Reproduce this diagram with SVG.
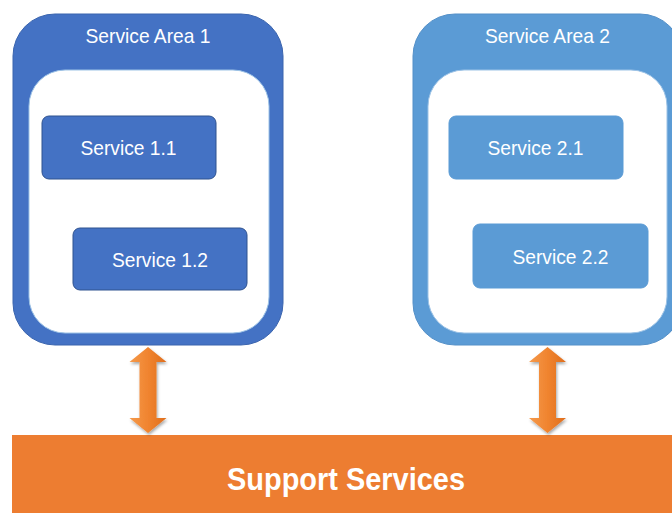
<svg xmlns="http://www.w3.org/2000/svg" width="672" height="513" viewBox="0 0 672 513">
  <defs>
    <style>
      .area1 { fill: #4472C4; stroke: #3A64AE; stroke-width: 1; }
      .area2 { fill: #5B9BD5; stroke: #5490C8; stroke-width: 1; }
      .inner { fill: #FFFFFF; stroke: #9DC3E6; stroke-width: 1; }
      .svc1 { fill: #4472C4; stroke: #2F528F; stroke-width: 1; }
      .svc2 { fill: #5B9BD5; stroke: #5B9BD5; stroke-width: 1; }
      .lbl { font-family: "Liberation Sans", Arial, sans-serif; font-size: 21px; fill: #FFFFFF; text-anchor: middle; }
      .big { font-family: "Liberation Sans", Arial, sans-serif; font-size: 32px; font-weight: bold; fill: #FFFFFF; text-anchor: middle; }
      .arrow { fill: url(#og); filter: url(#sh); }
    </style>
    <linearGradient id="og" x1="0" y1="0" x2="1" y2="0">
      <stop offset="0" stop-color="#F59A4C"/>
      <stop offset="0.5" stop-color="#F0842F"/>
      <stop offset="1" stop-color="#E06E1C"/>
    </linearGradient>
    <filter id="sh" x="-30%" y="-10%" width="160%" height="130%">
      <feDropShadow dx="1" dy="2" stdDeviation="1.5" flood-color="#000" flood-opacity="0.35"/>
    </filter>
    <path id="dbl" d="M0,0 L18.5,15 L8.5,15 L8.5,71 L18.5,71 L0,86 L-18.5,71 L-8.5,71 L-8.5,15 L-18.5,15 Z"/>
  </defs>

  <g id="service-area-1">
    <rect class="area1" x="13" y="14" width="270" height="331" rx="42" ry="42"/>
    <rect class="inner" x="29" y="70" width="240" height="263" rx="36" ry="36"/>
    <text class="lbl" x="148" y="43" textLength="125" lengthAdjust="spacingAndGlyphs">Service Area 1</text>
  </g>
  <g id="service-1-1">
    <rect class="svc1" x="42" y="116" width="174" height="63" rx="7" ry="7"/>
    <text class="lbl" x="128.5" y="155" textLength="96" lengthAdjust="spacingAndGlyphs">Service 1.1</text>
  </g>
  <g id="service-1-2">
    <rect class="svc1" x="73" y="228" width="174" height="62" rx="7" ry="7"/>
    <text class="lbl" x="160" y="267" textLength="96" lengthAdjust="spacingAndGlyphs">Service 1.2</text>
  </g>

  <g id="service-area-2">
    <rect class="area2" x="413" y="14" width="269" height="331" rx="42" ry="42"/>
    <rect class="inner" x="428" y="70" width="239" height="263" rx="36" ry="36"/>
    <text class="lbl" x="547.5" y="43" textLength="125" lengthAdjust="spacingAndGlyphs">Service Area 2</text>
  </g>
  <g id="service-2-1">
    <rect class="svc2" x="449" y="116" width="174" height="63" rx="7" ry="7"/>
    <text class="lbl" x="535.5" y="155" textLength="96" lengthAdjust="spacingAndGlyphs">Service 2.1</text>
  </g>
  <g id="service-2-2">
    <rect class="svc2" x="473" y="224" width="175" height="64" rx="7" ry="7"/>
    <text class="lbl" x="560.5" y="264" textLength="96" lengthAdjust="spacingAndGlyphs">Service 2.2</text>
  </g>

  <g id="support-services">
    <rect x="12" y="435" width="670" height="80" fill="#ED7D31"/>
    <text class="big" x="346" y="490" textLength="238" lengthAdjust="spacingAndGlyphs">Support Services</text>
  </g>

  <g id="connectors">
    <use href="#dbl" class="arrow" transform="translate(148,347)"/>
    <use href="#dbl" class="arrow" transform="translate(547.5,347)"/>
  </g>
</svg>
